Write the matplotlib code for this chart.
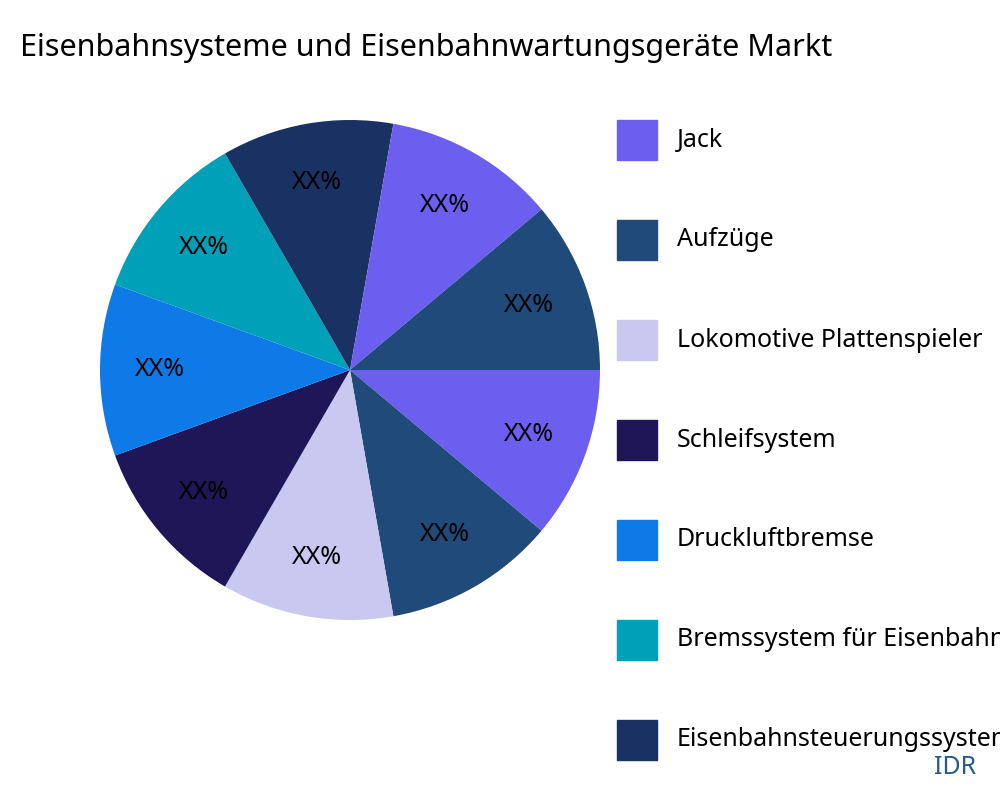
import matplotlib
matplotlib.use("Agg")
import matplotlib.pyplot as plt
from matplotlib.patches import Rectangle

plt.rcParams["font.family"] = "Noto Sans"

title = "Eisenbahnsysteme und Eisenbahnwartungsgeräte Markt"
categories = ["Jack", "Aufzüge", "Lokomotive Plattenspieler", "Schleifsystem",
              "Druckluftbremse", "Bremssystem für Eisenbahnen",
              "Eisenbahnsteuerungssystem"]
values = [1, 1, 1, 1, 1, 1, 1, 1, 1]
slice_labels = ["XX%"] * 9
palette = ["#6c5ff0", "#1f4a7a", "#c8c8f0", "#1e1656", "#0d7ae8", "#00a0b8", "#1a3263"]
colors = [palette[i % len(palette)] for i in range(len(values))]

fig = plt.figure(figsize=(10, 8), dpi=100)
ax = fig.add_axes([0.1, 0.225, 0.5, 0.625])
ax.pie(values, colors=colors, startangle=0, counterclock=False,
       labels=slice_labels, labeldistance=0.76,
       textprops=dict(fontsize=18, ha="center", va="center"))
for t in ax.texts:
    t.set_horizontalalignment("center")
ax.set_xlim(-1, 1)
ax.set_ylim(-1, 1)
ax.set_aspect("equal")

fig.text(0.02, 0.94, title, fontsize=22, ha="left", va="center")

for i, (name, c) in enumerate(zip(categories, palette)):
    y = 1 - (140 + 100 * i) / 800
    fig.add_artist(Rectangle((0.617, y - 0.025), 0.04, 0.05, color=c,
                             transform=fig.transFigure))
    fig.text(0.677, y, name, fontsize=18, ha="left", va="center")

fig.text(0.955, 0.04, "IDR", fontsize=18, color="#2a5a8a", ha="center", va="center")
fig.savefig("out.png", dpi=100)
